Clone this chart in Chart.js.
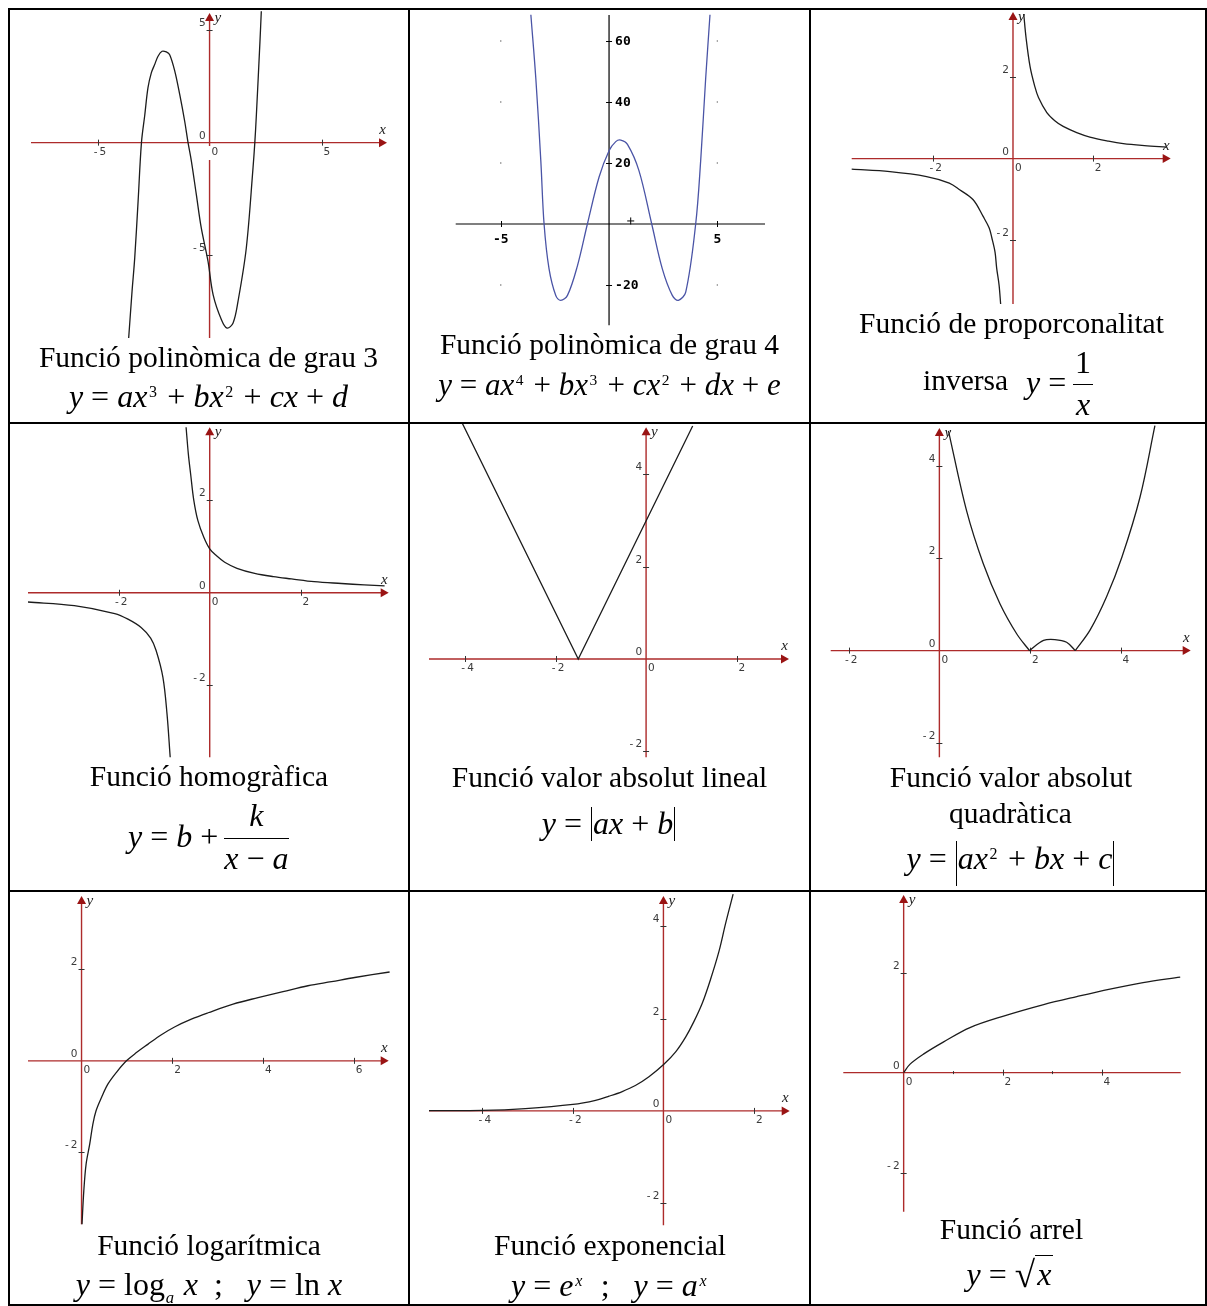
<!DOCTYPE html>
<html lang="ca">
<head>
<meta charset="utf-8">
<title>Funcions elementals</title>
<script src="https://cdn.jsdelivr.net/npm/chart.js@4.4.1/dist/chart.umd.min.js"></script>
<style>
  html, body { margin: 0; padding: 0; background: #fff; }
  #page { position: relative; width: 1207px; height: 1306px; overflow: hidden; }
  .rule { position: absolute; background: #000; }
  canvas.plot { position: absolute; }
  .t { position: absolute; white-space: nowrap; line-height: 1; color: #000;
       font-family: "Liberation Serif", "Times New Roman", serif; }
  .t i { font-style: italic; }
  .sp { position: relative; top: -0.62em; font-size: 0.5em; margin: 0 0.15em 0 0.1em; }
  .sb { position: relative; top: 0.5em; font-size: 0.52em; font-style: italic; margin: 0 0.1em 0 0.05em; }
  .bar { display: inline-block; position: relative; width: 3px; height: 1px; }
  .bar::before { content: ""; position: absolute; left: 1px; bottom: -7px; height: 34px; border-left: 1.3px solid #000; }
  .bar.tall::before { bottom: -17px; height: 45px; }
  .sq { font-size: 37px; position: relative; top: 2px; }
  .rad { border-top: 1.3px solid #000; padding: 0 2px; }
</style>
</head>
<body>
<div id="page">
  <!-- table rules -->
  <div class="rule" style="left:8px;top:8px;width:1199px;height:2px"></div>
  <div class="rule" style="left:8px;top:422px;width:1199px;height:2px"></div>
  <div class="rule" style="left:8px;top:890px;width:1199px;height:2px"></div>
  <div class="rule" style="left:8px;top:1304px;width:1199px;height:2px"></div>
  <div class="rule" style="left:8px;top:8px;width:2px;height:1298px"></div>
  <div class="rule" style="left:408px;top:8px;width:2px;height:1298px"></div>
  <div class="rule" style="left:809px;top:8px;width:2px;height:1298px"></div>
  <div class="rule" style="left:1205px;top:8px;width:2px;height:1298px"></div>

  <!-- captions -->
  <div class="t" data-a="c" data-x="208.5" data-b="368" data-s="29.5">Funció polinòmica de grau 3</div>
  <div class="t" data-a="c" data-x="208.5" data-b="406.3" data-s="32"><i>y</i> = <i>ax</i><span class="sp">3</span> + <i>bx</i><span class="sp">2</span> + <i>cx</i> + <i>d</i></div>

  <div class="t" data-a="c" data-x="609.5" data-b="354.7" data-s="29.5">Funció polinòmica de grau 4</div>
  <div class="t" data-a="c" data-x="609.5" data-b="394.7" data-s="31"><i>y</i> = <i>ax</i><span class="sp">4</span> + <i>bx</i><span class="sp">3</span> + <i>cx</i><span class="sp">2</span> + <i>dx</i> + <i>e</i></div>

  <div class="t" data-a="c" data-x="1011.5" data-b="334" data-s="29.5">Funció de proporconalitat</div>
  <div class="t" data-a="l" data-x="923" data-b="391" data-s="29.5">inversa</div>
  <div class="t" data-a="l" data-x="1026" data-b="393" data-s="32"><i>y</i> =</div>
  <div class="t" data-a="c" data-x="1083" data-b="373" data-s="32">1</div>
  <div class="rule" style="left:1073px;top:384px;width:20px;height:1.3px"></div>
  <div class="t" data-a="c" data-x="1083" data-b="415" data-s="32"><i>x</i></div>

  <div class="t" data-a="c" data-x="209" data-b="787" data-s="29.5">Funció homogràfica</div>
  <div class="t" data-a="l" data-x="128" data-b="847" data-s="32"><i>y</i> = <i>b</i> +</div>
  <div class="t" data-a="c" data-x="256.3" data-b="825.7" data-s="32"><i>k</i></div>
  <div class="rule" style="left:224px;top:838px;width:65px;height:1.3px"></div>
  <div class="t" data-a="c" data-x="256.3" data-b="869" data-s="32"><i>x</i> − <i>a</i></div>

  <div class="t" data-a="c" data-x="609.5" data-b="787.3" data-s="29.5">Funció valor absolut lineal</div>
  <div class="t" data-a="c" data-x="609" data-b="834" data-s="32"><i>y</i> = <span class="bar"></span><i>ax</i> + <i>b</i><span class="bar"></span></div>

  <div class="t" data-a="c" data-x="1011" data-b="787.3" data-s="29.5">Funció valor absolut</div>
  <div class="t" data-a="c" data-x="1010.5" data-b="824" data-s="29.5">quadràtica</div>
  <div class="t" data-a="c" data-x="1011" data-b="869" data-s="32"><i>y</i> = <span class="bar tall"></span><i>ax</i><span class="sp">2</span> + <i>bx</i> + <i>c</i><span class="bar tall"></span></div>

  <div class="t" data-a="c" data-x="209" data-b="1256" data-s="29.5">Funció logarítmica</div>
  <div class="t" data-a="c" data-x="209" data-b="1294.3" data-s="32"><i>y</i> = log<span class="sb">a</span> <i>x</i>&nbsp; ;&nbsp;&nbsp; <i>y</i> = ln <i>x</i></div>

  <div class="t" data-a="c" data-x="610" data-b="1256" data-s="29.5">Funció exponencial</div>
  <div class="t" data-a="c" data-x="610" data-b="1296" data-s="32"><i>y</i> = <i>e</i><span class="sp"><i>x</i></span>&nbsp; ;&nbsp;&nbsp; <i>y</i> = <i>a</i><span class="sp"><i>x</i></span></div>

  <div class="t" data-a="c" data-x="1011.5" data-b="1239.3" data-s="29.5">Funció arrel</div>
  <div class="t" data-a="c" data-x="1010" data-b="1281" data-s="32"><i>y</i> = <span class="sq">√</span><span class="rad"><i>x</i></span></div>
</div>

<script>
// ── 1. DATA ────────────────────────────────────────────────────
// Polinòmica de grau 3
const cubicX = [-3.61, -3.46, -3.34, -3.19, -3.04, -2.89, -2.75, -2.60, -2.45, -2.30, -2.12, -1.93,
                -1.78, -1.55, -1.33, -1.11, -0.96, -0.81, -0.59, -0.37, -0.07, 0.16, 0.53, 0.78,
                1.05, 1.27, 1.64, 1.94, 2.02, 2.09, 2.25, 2.31];
const cubicY = [-8.68, -6.61, -5.12, -2.61, 0, 1.24, 2.43, 3.10, 3.47, 3.84, 4.06, 4.03,
                3.91, 3.17, 2.13, 0.95, 0, -0.83, -2.31, -3.79, -5.27, -6.76, -7.87, -8.24,
                -8.01, -7.05, -4.68, -1.12, 0, 1.24, 4.5, 5.84];
// Polinòmica de grau 4
const quartX = [-3.61, -3.38, -3.15, -3.0, -2.77, -2.46, -2.23, -1.92, -1.46, -1.0, -0.46, 0, 0.31,
                0.54, 0.85, 1.38, 1.97, 2.46, 2.92, 3.2, 3.54, 4.0, 4.23, 4.46, 4.66];
const quartY = [68.6, 47.6, 20.7, 0, -14.7, -23.4, -25, -23.4, -13.7, 0, 15.4, 24, 27,
                27.5, 26.1, 17.5, 0, -14.7, -23.4, -25, -22.3, 0, 20.7, 47.6, 68.6];
const quartDotsX = [-5, -5, -5, -5, 5, 5, 5, 5];
const quartDotsY = [60, 40, 20, -20, 60, 40, 20, -20];
// Proporcionalitat inversa
const invPosX = [0.27, 0.33, 0.43, 0.54, 0.64, 0.85, 1.05, 1.26, 1.6, 1.93, 2.4, 2.77, 3.3, 3.86];
const invPosY = [3.55, 2.95, 2.25, 1.8, 1.5, 1.13, 0.93, 0.79, 0.64, 0.53, 0.43, 0.37, 0.32, 0.28];
const invNegX = [-4.05, -3.09, -2.17, -1.6, -1.33, -1.0, -0.75, -0.6, -0.53, -0.45, -0.41, -0.35, -0.31];
const invNegY = [-0.26, -0.32, -0.44, -0.6, -0.77, -1.01, -1.42, -1.7, -1.95, -2.3, -2.69, -3.1, -3.57];
// Homogràfica
const homPosX = [-0.52, -0.47, -0.42, -0.35, -0.26, -0.13, 0, 0.15, 0.33, 0.6, 0.99, 1.4, 1.8, 2.3, 2.9, 3.4, 3.85];
const homPosY = [3.58, 3.0, 2.57, 2.0, 1.56, 1.2, 0.95, 0.8, 0.66, 0.53, 0.42, 0.35, 0.3, 0.24, 0.2, 0.17, 0.15];
const homNegX = [-4.0, -2.98, -2.09, -1.8, -1.51, -1.3, -1.18, -1.03, -0.94, -0.87];
const homNegY = [-0.2, -0.28, -0.45, -0.57, -0.75, -0.98, -1.25, -1.83, -2.62, -3.56];
// Valor absolut lineal
const absLinX = [-4.06, -1.5, 1.03];
const absLinY = [5.1, 0, 5.05];
// Valor absolut quadràtica (three smooth pieces between the kinks)
const absQuadLX = [0.2, 0.6, 0.97, 1.34, 1.71, 1.99];
const absQuadLY = [4.76, 3.03, 1.88, 1.01, 0.36, 0];
const absQuadMX = [1.99, 2.3, 2.55, 2.81, 3.0];
const absQuadMY = [0, 0.22, 0.24, 0.18, 0];
const absQuadRX = [3.0, 3.33, 3.69, 4.03, 4.43, 4.76];
const absQuadRY = [0, 0.45, 1.16, 2.02, 3.32, 4.87];
// Logarítmica
const logX = [0.01, 0.05, 0.10, 0.18, 0.25, 0.32, 0.44, 0.58, 0.77, 0.99, 1.21, 1.46, 1.76, 2.05,
              2.42, 2.79, 3.34, 3.89, 4.44, 4.99, 5.51, 6.02, 6.79];
const logY = [-3.57, -2.84, -2.26, -1.82, -1.38, -1.09, -0.80, -0.51, -0.25, 0, 0.18, 0.36, 0.57, 0.74,
              0.91, 1.05, 1.24, 1.38, 1.51, 1.64, 1.73, 1.82, 1.94];
// Exponencial
const expX = [-5.18, -4.0, -3.05, -2.0, -1.5, -1.2, -0.91, -0.62, -0.32, 0.01, 0.27, 0.49, 0.67,
              0.86, 1.04, 1.23, 1.37, 1.54];
const expY = [0.005, 0.01, 0.05, 0.14, 0.23, 0.32, 0.42, 0.55, 0.74, 1.01, 1.28, 1.6, 1.93,
              2.34, 2.85, 3.47, 4.05, 4.7];
// Arrel
const sqrtX = [0, 0.13, 0.4, 0.8, 1.34, 2.02, 2.83, 3.5, 4.17, 4.84, 5.59];
const sqrtY = [0, 0.17, 0.37, 0.61, 0.9, 1.13, 1.36, 1.52, 1.67, 1.8, 1.91];

// Tick labels
const ticks1X = [-5, 0, 5],   ticks1Y = [5, 0, -5];
const ticks2X = [-5, 5],      ticks2Y = [60, 40, 20, -20];
const ticks3X = [-2, 0, 2],   ticks3Y = [2, 0, -2];
const ticks4X = [-2, 0, 2],   ticks4Y = [2, 0, -2];
const ticks5X = [-4, -2, 0, 2], ticks5Y = [4, 2, 0, -2];
const ticks6X = [-2, 0, 2, 4],  ticks6Y = [4, 2, 0, -2];
const ticks7X = [0, 2, 4, 6],   ticks7Y = [2, 0, -2];
const ticks8X = [-4, -2, 0, 2], ticks8Y = [4, 2, 0, -2];
const ticks9X = [0, 2, 4],      ticks9Y = [2, 0, -2];
const minor9X = [1, 3];

// ── 2. HELPERS ────────────────────────────────────────────────
const pts = (xs, ys) => xs.map((x, i) => ({ x, y: ys[i] }));
const NEG = "-\u2009";
const fmt = (v) => (v < 0 ? NEG + Math.abs(v) : String(v));

const AXIS_RED = "#ad2b2b";
const ARROW_RED = "#9a1414";

// ── 3. AXES PLUGIN ────────────────────────────────────────────
const fnAxes = {
  id: "fnAxes",
  beforeDatasetsDraw(chart, args, o) {
    const { ctx, chartArea: a, scales: { x, y } } = chart;
    const ox = x.getPixelForValue(0);
    const oy = y.getPixelForValue(0);
    const AL = 8, AW = 4.5;
    ctx.save();

    // axis lines
    ctx.lineWidth = o.lineWidth;
    ctx.strokeStyle = o.color;
    ctx.beginPath();
    ctx.moveTo(a.left, oy);
    ctx.lineTo(o.arrowX ? a.right - AL + 1 : a.right, oy);
    ctx.moveTo(ox, a.bottom);
    ctx.lineTo(ox, o.arrowY ? a.top + AL - 1 : a.top);
    ctx.stroke();
    if (o.gap) ctx.clearRect(ox - 2, oy + o.gap[0], 4, o.gap[1]);

    // arrow heads
    ctx.fillStyle = ARROW_RED;
    if (o.arrowX) {
      ctx.beginPath();
      ctx.moveTo(a.right, oy);
      ctx.lineTo(a.right - AL, oy - AW);
      ctx.lineTo(a.right - AL, oy + AW);
      ctx.closePath();
      ctx.fill();
    }
    if (o.arrowY) {
      ctx.beginPath();
      ctx.moveTo(ox, a.top);
      ctx.lineTo(ox - AW, a.top + AL);
      ctx.lineTo(ox + AW, a.top + AL);
      ctx.closePath();
      ctx.fill();
    }

    // tick marks
    ctx.strokeStyle = o.tickColor;
    ctx.lineWidth = 1;
    ctx.beginPath();
    o.ticksX.forEach((v) => {
      if (v === 0) return;
      const px = Math.round(x.getPixelForValue(v)) + 0.5;
      ctx.moveTo(px, oy - 3); ctx.lineTo(px, oy + 3);
    });
    o.ticksY.forEach((v) => {
      if (v === 0) return;
      const py = Math.round(y.getPixelForValue(v)) + 0.5;
      ctx.moveTo(ox - 3, py); ctx.lineTo(ox + 3, py);
    });
    (o.minorX || []).forEach((v) => {
      const px = Math.round(x.getPixelForValue(v)) + 0.5;
      ctx.moveTo(px, oy - 1.5); ctx.lineTo(px, oy + 1.5);
    });
    ctx.stroke();

    // tick labels
    ctx.fillStyle = o.labelColor;
    ctx.font = o.font;
    if (o.mode === "derive") {
      ctx.textAlign = "center";
      ctx.textBaseline = "alphabetic";
      o.ticksX.forEach((v) => ctx.fillText(String(v), x.getPixelForValue(v), oy + 18.5));
      ctx.textAlign = "left";
      ctx.textBaseline = "middle";
      o.ticksY.forEach((v) => ctx.fillText(String(v), ox + 6, y.getPixelForValue(v) + 0.5));
    } else {
      ctx.textBaseline = "alphabetic";
      ctx.textAlign = "left";
      const mw = ctx.measureText(NEG).width;
      o.ticksX.forEach((v) =>
        ctx.fillText(fmt(v), x.getPixelForValue(v) + 2 - (v < 0 ? mw : 0), oy + 12.5));
      ctx.textAlign = "right";
      o.ticksY.forEach((v) => ctx.fillText(fmt(v), ox - 4, y.getPixelForValue(v) - 4));
    }

    // axis names
    ctx.font = 'italic 15px "Liberation Serif", serif';
    ctx.fillStyle = "#222";
    if (o.nameX) { ctx.textAlign = "right"; ctx.fillText("x", a.right - 1, oy - 9); }
    if (o.nameY) { ctx.textAlign = "left"; ctx.fillText("y", ox + 5, a.top + 9); }
    ctx.restore();
  },
};

// ── 4. PANELS ─────────────────────────────────────────────────
const COLS = [[10, 408], [410, 809], [811, 1205]];
const ROWS = [[10, 422], [424, 890], [892, 1304]];

const curve = (data, color = "#1c1c1c", straight = false) => ({
  data, showLine: true, pointRadius: 0, borderColor: color, borderWidth: 1.3,
  tension: straight ? 0 : 0.35, clip: 4,
});

const red = (tx, ty, extra = {}) => ({
  mode: "geo", color: AXIS_RED, lineWidth: 1.4, tickColor: "#333", labelColor: "#3a3a3a",
  font: '10.5px "DejaVu Sans", sans-serif', arrowX: true, arrowY: true, nameX: true, nameY: true,
  ticksX: tx, ticksY: ty, ...extra,
});

const panels = [
  { col: 0, row: 0, area: [31, 13, 387, 338], xr: [-7.97, 7.92], yr: [-8.68, 5.76],
    axes: red(ticks1X, ticks1Y, { gap: [3.5, 13.5] }),
    sets: [curve(pts(cubicX, cubicY))] },
  { col: 1, row: 0, area: [455.7, 10, 765, 325.3], xr: [-7.08, 7.2], yr: [-33.2, 68.5],
    axes: { mode: "derive", color: "#000", lineWidth: 1.2, tickColor: "#000", labelColor: "#000",
            font: 'bold 13px "DejaVu Sans Mono", monospace', ticksX: ticks2X, ticksY: ticks2Y },
    sets: [
      curve(pts(quartX, quartY), "#4a54a6"),
      { data: pts(quartDotsX, quartDotsY), pointRadius: 0.8, pointBackgroundColor: "#777",
        pointBorderWidth: 0, showLine: false },
      { data: [{ x: 1, y: 1 }], pointStyle: "cross", pointRadius: 3.5, borderColor: "#000",
        borderWidth: 1, showLine: false },
    ] },
  { col: 2, row: 0, area: [851.7, 12, 1170.7, 304], xr: [-4.05, 3.96], yr: [-3.57, 3.6],
    axes: red(ticks3X, ticks3Y),
    sets: [curve(pts(invPosX, invPosY)), curve(pts(invNegX, invNegY))] },
  { col: 0, row: 1, area: [28, 427.3, 388.7, 757.3], xr: [-4.0, 3.94], yr: [-3.56, 3.58],
    axes: red(ticks4X, ticks4Y),
    sets: [curve(pts(homPosX, homPosY)), curve(pts(homNegX, homNegY))] },
  { col: 1, row: 1, area: [429, 427.3, 789, 757.3], xr: [-4.8, 3.16], yr: [-2.13, 5.02],
    axes: red(ticks5X, ticks5Y),
    sets: [curve(pts(absLinX, absLinY), "#1c1c1c", true)] },
  { col: 2, row: 1, area: [830.7, 428, 1190.7, 757.3], xr: [-2.4, 5.55], yr: [-2.31, 4.82],
    axes: red(ticks6X, ticks6Y),
    sets: [curve(pts(absQuadLX, absQuadLY)), curve(pts(absQuadMX, absQuadMY)),
           curve(pts(absQuadRX, absQuadRY))] },
  { col: 0, row: 2, area: [28, 896, 388.7, 1224.3], xr: [-1.18, 6.77], yr: [-3.57, 3.6],
    axes: red(ticks7X, ticks7Y),
    sets: [curve(pts(logX, logY))] },
  { col: 1, row: 2, area: [429, 896, 789.7, 1225.3], xr: [-5.18, 2.79], yr: [-2.48, 4.66],
    axes: red(ticks8X, ticks8Y),
    sets: [curve(pts(expX, expY))] },
  { col: 2, row: 2, area: [843.3, 895, 1180.7, 1211.7], xr: [-1.22, 5.6], yr: [-2.78, 3.55],
    axes: red(ticks9X, ticks9Y, { arrowX: false, nameX: false, minorX: minor9X }),
    sets: [curve(pts(sqrtX, sqrtY))] },
];

function renderPanel(p) {
  const [cl, cr] = COLS[p.col];
  const [rt, rb] = ROWS[p.row];
  const canvas = document.createElement("canvas");
  canvas.className = "plot";
  canvas.width = cr - cl;
  canvas.height = rb - rt;
  canvas.style.left = cl + "px";
  canvas.style.top = rt + "px";
  document.getElementById("page").insertBefore(canvas, document.querySelector(".t"));

  const [al, at, ar, ab] = p.area;
  new Chart(canvas, {
    type: "scatter",
    data: { datasets: p.sets },
    options: {
      responsive: false,
      animation: false,
      events: [],
      devicePixelRatio: 1,
      layout: { padding: { left: al - cl, top: at - rt, right: cr - ar, bottom: rb - ab } },
      scales: {
        x: { type: "linear", display: false, min: p.xr[0], max: p.xr[1] },
        y: { type: "linear", display: false, min: p.yr[0], max: p.yr[1] },
      },
      plugins: { legend: { display: false }, tooltip: { enabled: false }, fnAxes: p.axes },
    },
    plugins: [fnAxes],
  });
}

// ── 5. TEXT PLACEMENT ─────────────────────────────────────────
function placeText() {
  document.querySelectorAll(".t").forEach((el) => {
    const s = +el.dataset.s, b = +el.dataset.b, x = +el.dataset.x;
    el.style.fontSize = s + "px";
    el.style.top = (b - 0.8375 * s) + "px";
    if (el.dataset.a === "c") {
      el.style.left = (x - 300) + "px";
      el.style.width = "600px";
      el.style.textAlign = "center";
    } else {
      el.style.left = x + "px";
    }
  });
}

// ── 6. INIT ───────────────────────────────────────────────────
placeText();
panels.forEach(renderPanel);
</script>
</body>
</html>
